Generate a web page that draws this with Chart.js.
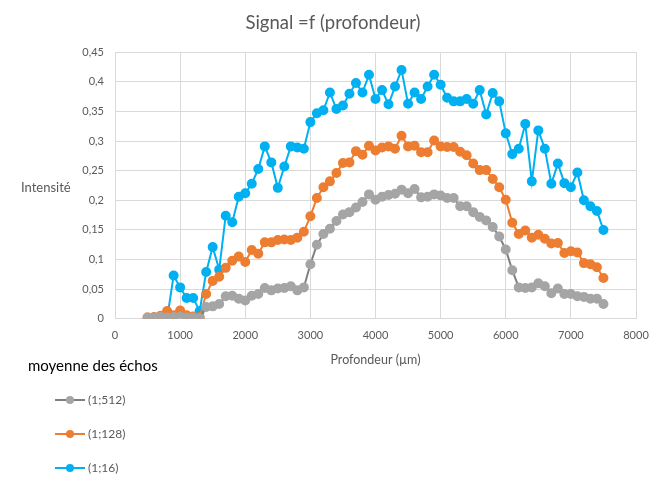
<!DOCTYPE html>
<html>
<head>
<meta charset="utf-8">
<script src="https://cdn.jsdelivr.net/npm/chart.js@4/dist/chart.umd.min.js"></script>
<style>
  html, body { margin: 0; padding: 0; background: #fff; }
  #wrap { position: relative; width: 672px; height: 487px; }
</style>
</head>
<body>
<div id="wrap"><canvas id="chart_signal"></canvas></div>
<script>
// profondeur (µm)
const DEPTHS = [
  500, 600, 700, 800, 900, 1000, 1100, 1200, 1300, 1400,
  1500, 1600, 1700, 1800, 1900, 2000, 2100, 2200, 2300, 2400,
  2500, 2600, 2700, 2800, 2900, 3000, 3100, 3200, 3300, 3400,
  3500, 3600, 3700, 3800, 3900, 4000, 4100, 4200, 4300, 4400,
  4500, 4600, 4700, 4800, 4900, 5000, 5100, 5200, 5300, 5400,
  5500, 5600, 5700, 5800, 5900, 6000, 6100, 6200, 6300, 6400,
  6500, 6600, 6700, 6800, 6900, 7000, 7100, 7200, 7300, 7400,
  7500
];

const SERIES_NAMES = [ '(1;512)', '(1;128)', '(1;16)' ];

const SIGNAL_512 = [
  0.002, 0.002, 0.003, 0.002, 0.003, 0.004, 0.002, 0.002, 0.001, 0.020,
  0.021, 0.025, 0.038, 0.039, 0.034, 0.031, 0.039, 0.042, 0.052, 0.048,
  0.051, 0.052, 0.055, 0.048, 0.053, 0.092, 0.125, 0.143, 0.152, 0.165,
  0.176, 0.180, 0.188, 0.197, 0.210, 0.201, 0.206, 0.209, 0.211, 0.218,
  0.212, 0.219, 0.205, 0.206, 0.210, 0.208, 0.204, 0.204, 0.190, 0.190,
  0.180, 0.172, 0.166, 0.155, 0.139, 0.117, 0.082, 0.053, 0.052, 0.053,
  0.060, 0.055, 0.043, 0.051, 0.042, 0.042, 0.038, 0.037, 0.034, 0.034,
  0.025
];

const SIGNAL_128 = [
  0.002, 0.003, 0.005, 0.013, 0.006, 0.014, 0.006, 0.004, 0.003, 0.042,
  0.064, 0.071, 0.086, 0.098, 0.105, 0.096, 0.116, 0.110, 0.129, 0.129,
  0.133, 0.134, 0.133, 0.137, 0.147, 0.173, 0.204, 0.222, 0.232, 0.246,
  0.263, 0.264, 0.283, 0.277, 0.292, 0.284, 0.289, 0.291, 0.287, 0.309,
  0.291, 0.292, 0.281, 0.281, 0.301, 0.291, 0.290, 0.290, 0.282, 0.276,
  0.262, 0.251, 0.251, 0.236, 0.222, 0.201, 0.162, 0.143, 0.149, 0.137,
  0.142, 0.135, 0.127, 0.128, 0.111, 0.114, 0.112, 0.094, 0.092, 0.087,
  0.069
];

const SIGNAL_16 = [
  null, null, null, 0, 0.073, 0.053, 0.035, 0.035, 0.013, 0.079,
  0.121, 0.083, 0.174, 0.163, 0.206, 0.212, 0.228, 0.253, 0.291, 0.264,
  0.221, 0.257, 0.291, 0.289, 0.287, 0.332, 0.347, 0.352, 0.382, 0.354,
  0.360, 0.380, 0.398, 0.382, 0.412, 0.371, 0.386, 0.362, 0.392, 0.420,
  0.363, 0.382, 0.371, 0.392, 0.412, 0.395, 0.373, 0.367, 0.367, 0.371,
  0.363, 0.386, 0.345, 0.381, 0.367, 0.313, 0.278, 0.287, 0.329, 0.232,
  0.318, 0.287, 0.228, 0.262, 0.229, 0.222, 0.247, 0.200, 0.190, 0.182,
  0.150
];

const LINE_COLORS = [ '#7f7f7f', '#ed7d31', '#00b0f0' ];
const POINT_COLORS = [ '#a5a5a5', '#ed7d31', '#00b0f0' ];

const FONT_FAMILY = 'Lato, "Open Sans", sans-serif';
const TEXT_GRAY = '#595959';
const GRID_GRAY = '#d9d9d9';

function to_points( values ) {
  return DEPTHS.map( ( d, i ) => ( { x: d, y: values[ i ] } ) );
}

function fmt_comma( v ) {
  return String( Math.round( v * 100 ) / 100 ).replace( '.', ',' );
}

function make_dataset( idx, values ) {
  return {
    label: SERIES_NAMES[ idx ],
    data: to_points( values ),
    borderColor: LINE_COLORS[ idx ],
    backgroundColor: POINT_COLORS[ idx ],
    pointBackgroundColor: POINT_COLORS[ idx ],
    pointBorderColor: POINT_COLORS[ idx ],
    borderWidth: 2,
    // blue series: no marker on its leading zero
    pointRadius: ctx => ( ctx.raw && ctx.raw.y === 0 ) ? 0 : 4,
    tension: 0,
    spanGaps: false
  };
}

// horizontal y title + vertical legend under the plot, like the excel layout
const side_text_plugin = {
  id: 'side_text',
  afterDraw( chart ) {
    const ctx = chart.ctx;
    const area = chart.chartArea;
    ctx.save();
    ctx.textBaseline = 'middle';
    ctx.textAlign = 'left';
    ctx.fillStyle = TEXT_GRAY;
    ctx.font = '13px ' + FONT_FAMILY;
    ctx.fillText( 'Intensité', 21, ( area.top + area.bottom ) / 2 + 2 );

    ctx.fillStyle = '#000';
    ctx.font = '15px ' + FONT_FAMILY;
    ctx.fillText( 'moyenne des échos', 28, 366 );

    chart.data.datasets.forEach( ( ds, i ) => {
      const y = 400 + i * 34;
      ctx.strokeStyle = LINE_COLORS[ i ];
      ctx.lineWidth = 2;
      ctx.beginPath();
      ctx.moveTo( 55, y );
      ctx.lineTo( 85, y );
      ctx.stroke();
      ctx.fillStyle = POINT_COLORS[ i ];
      ctx.beginPath();
      ctx.arc( 70, y, 4, 0, Math.PI * 2 );
      ctx.fill();
      ctx.fillStyle = TEXT_GRAY;
      ctx.font = '12px ' + FONT_FAMILY;
      ctx.fillText( ds.label, 88, y );
    } );
    ctx.restore();
  }
};

function create_chart( chart_id ) {
  const ctx = document.getElementById( chart_id ).getContext( '2d' );
  return new Chart( ctx, {
    type: 'line',
    data: {
      datasets: [
        make_dataset( 0, SIGNAL_512 ),
        make_dataset( 1, SIGNAL_128 ),
        make_dataset( 2, SIGNAL_16 )
      ]
    },
    options: {
      responsive: true,
      maintainAspectRatio: false,
      animation: false,
      layout: { padding: { left: 30, right: 36, top: 0, bottom: 120 } },
      plugins: {
        legend: { display: false },
        tooltip: { enabled: false },
        title: {
          display: true,
          text: 'Signal =f (profondeur)',
          color: TEXT_GRAY,
          font: { family: FONT_FAMILY, size: 18.5, weight: 'normal' },
          padding: { top: 12, bottom: 18 }
        }
      },
      scales: {
        x: {
          type: 'linear',
          min: 0,
          max: 8000,
          grid: { color: GRID_GRAY, drawTicks: false },
          border: { color: GRID_GRAY },
          ticks: {
            stepSize: 1000,
            padding: 10,
            color: TEXT_GRAY,
            font: { family: FONT_FAMILY, size: 11 },
            maxRotation: 0,
            callback: v => String( v )
          },
          title: {
            display: true,
            text: 'Profondeur (µm)',
            color: TEXT_GRAY,
            font: { family: FONT_FAMILY, size: 12.5 },
            padding: { top: 0, bottom: 0 }
          }
        },
        y: {
          min: 0,
          max: 0.45,
          grid: { color: GRID_GRAY, drawTicks: false },
          border: { color: GRID_GRAY },
          afterFit: scale => { scale.width = 85; },
          ticks: {
            stepSize: 0.05,
            padding: 11,
            color: TEXT_GRAY,
            font: { family: FONT_FAMILY, size: 11 },
            callback: v => fmt_comma( v )
          }
        }
      }
    },
    plugins: [ side_text_plugin ]
  } );
}

document.addEventListener( 'DOMContentLoaded', function () {
  create_chart( 'chart_signal' );
} );
</script>
</body>
</html>
